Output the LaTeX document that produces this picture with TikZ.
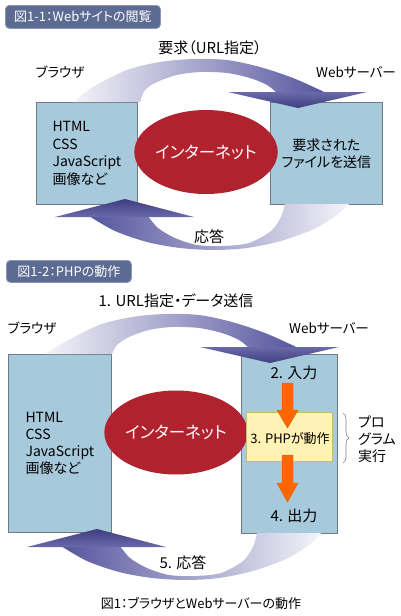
\documentclass[tikz,border=0pt]{standalone}
\usepackage{fontspec}
\setmainfont{Noto Sans CJK JP}[RawFeature=+palt]
\usetikzlibrary{shapes.geometric,decorations.pathreplacing}
\definecolor{boxblue}{HTML}{A7C9DC}
\definecolor{boxline}{HTML}{6E7A84}
\definecolor{netred}{HTML}{B0232E}
\definecolor{titlebg}{HTML}{5C6B92}
\definecolor{titleline}{HTML}{8A96B4}
\definecolor{bandlight}{HTML}{F4F4FA}
\definecolor{bandmid}{HTML}{A2A2D0}
\definecolor{banddark}{HTML}{55559E}
\definecolor{headtop}{HTML}{6A6AAA}
\definecolor{headbot}{HTML}{3E3E80}
\definecolor{orangearr}{HTML}{FF6600}
\definecolor{orangeline}{HTML}{E05A00}
\definecolor{phpfill}{HTML}{FFF2B4}
\definecolor{phpline}{HTML}{C8B870}
\newcommand\TopArrow[3]{%
\begin{scope}[shift={(#1,#2)}]
\shade[left color=bandlight, middle color=bandmid, right color=banddark]
 plot[smooth] coordinates {(-225,#3) (-205,-21) (-171,-38) (-138,-46) (-105,-49) (-71,-48) (-38,-41) (-5,-30) (22,-18) (28,-15)}
 -- plot[smooth] coordinates {(-21,-15) (-31,-23) (-48,-30) (-71,-35) (-98,-36) (-121,-33) (-141,-26) (-153,-18) (-158,#3)} -- cycle;
\shade[top color=headtop, bottom color=headbot] (-70,-16) -- (69,-16) -- (0,0) -- cycle;
\end{scope}}
\newcommand\BotArrow[3]{%
\begin{scope}[shift={(#1,#2)}]
\shade[left color=banddark, middle color=bandmid, right color=bandlight]
 plot[smooth] coordinates {(-36,17) (-10,32) (22,43) (55,49) (89,51) (122,49) (156,42) (189,30) (212,16) (224,#3)}
 -- plot[smooth] coordinates {(160,#3) (156,18) (146,32) (124,44) (98,47) (72,46) (50,39) (33,29) (23,17)} -- cycle;
\shade[top color=headbot, bottom color=headtop] (-70,18) -- (69,18) -- (0,0) -- cycle;
\end{scope}}
\begin{document}
\begin{tikzpicture}[x=1pt,y=-1pt,
 box/.style={draw=boxline, line width=0.8pt, fill=boxblue, inner sep=0pt, anchor=north west},
 lbl/.style={font=\fontsize{15}{16}\selectfont, inner sep=0pt},
 side/.style={font=\fontsize{13.5}{16}\selectfont, inner sep=0pt},
 boxtext/.style={font=\fontsize{14}{17.8}\selectfont, align=left},
 net/.style={ellipse, fill=netred, text=white, minimum width=118pt, minimum height=84pt, inner sep=0pt, font=\fontsize{16.5}{18}\selectfont},
 titlebox/.style={draw=titleline, line width=0.8pt, fill=titlebg, rounded corners=4pt, text=white, font=\fontsize{13}{14}\selectfont, anchor=north west, inner sep=0pt},
 orangeblk/.style={fill=orangearr, draw=orangeline, line width=0.4pt}]
\useasboundingbox (0,0) rectangle (401,616);
% ---------- Figure 1-1 ----------
\node[titlebox, minimum width=155pt, minimum height=23pt] (t1) at (5,5) {図1-1：Webサイトの閲覧};
\node[lbl] (req1) at (210,48) {要求（URL指定）};
\node[side] (br1) at (60,72) {ブラウザ};
\node[side] (ws1) at (356,72) {Webサーバー};
\node[box, minimum width=101pt, minimum height=102pt, boxtext] (lb1) at (36,102) {HTML\\CSS\\JavaScript\\画像など};
\node[box, minimum width=112pt, minimum height=102pt, font=\fontsize{14}{17}\selectfont, align=center] (rb1) at (270,102) {要求された\\ファイルを送信};
\node[net] (net1) at (206,152) {インターネット};
\TopArrow{298}{108}{-6}
\BotArrow{125}{199}{5}
\node[lbl] (res1) at (209,237) {応答};
% ---------- Figure 1-2 ----------
\node[titlebox, minimum width=125pt, minimum height=22pt] (t2) at (6,260) {図1-2：PHPの動作};
\node[lbl] (req2) at (176,301) {1. URL指定・データ送信};
\node[side] (br2) at (32,328) {ブラウザ};
\node[side] (ws2) at (329,328) {Webサーバー};
\node[box, minimum width=103pt, minimum height=178pt, boxtext, font=\fontsize{14}{16.7}\selectfont] (lb2) at (8,354) {HTML\\CSS\\JavaScript\\画像など};
\node[box, minimum width=96pt, minimum height=179pt] (rb2) at (241,354) {};
\node[net] (net2) at (176,432.5) {インターネット};
\node[draw=phpline, line width=0.6pt, fill=phpfill, minimum width=86pt, minimum height=49pt, anchor=north west, inner sep=0pt] (php) at (246,412) {};
\draw[orangeblk] (282,383) -- (293,383) -- (293,410) -- (298,410) -- (287.5,428) -- (277,410) -- (282,410) -- cycle;
\draw[orangeblk] (282,455) -- (293,455) -- (293,483) -- (298,483) -- (287.5,502) -- (277,483) -- (282,483) -- cycle;
\node[lbl] (in2) at (294,373) {2. 入力};
\node[font=\fontsize{13}{14}\selectfont, inner sep=0pt] (run2) at (290,439) {3. PHPが動作};
\node[lbl] (out2) at (294,516) {4. 出力};
\draw[decorate, decoration={brace, amplitude=6pt}, draw=gray, line width=0.6pt] (343,413) -- (343,463);
\node[font=\fontsize{14}{17}\selectfont, align=left, anchor=west, inner sep=0pt] (prog) at (358,439) {プロ\\グラム\\実行};
\TopArrow{270}{363}{-9}
\BotArrow{97}{529}{4}
\node[lbl] (res2) at (183,563) {5. 応答};
\node[font=\fontsize{13}{14}\selectfont, inner sep=0pt] (cap) at (201,603) {図1：ブラウザとWebサーバーの動作};
\end{tikzpicture}
\end{document}
